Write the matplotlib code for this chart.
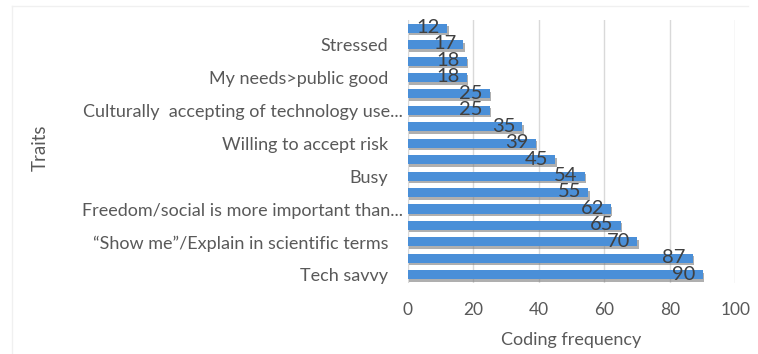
import numpy as np
import matplotlib
matplotlib.use("Agg")
import matplotlib.pyplot as plt
import matplotlib.patheffects as pe
import matplotlib.transforms as mtransforms
from matplotlib.lines import Line2D

# Coding frequency per trait, listed bottom to top
values = [90, 87, 70, 65, 62, 55, 54, 45, 39, 35, 25, 25, 18, 18, 17, 12]

# only every other category gets a visible label
tick_labels = [
    "Tech savvy",
    "\u201cShow me\u201d/Explain in scientific terms",
    "Freedom/social is more important than...",
    "Busy",
    "Willing to accept risk",
    "Culturally  accepting of technology use...",
    "My needs>public good",
    "Stressed",
]
xticks = [0, 20, 40, 60, 80, 100]

plt.rcParams["font.family"] = ["Lato", "DejaVu Sans"]
text_color = "#595959"

fig = plt.figure(figsize=(7.58, 3.54), dpi=100)
ax = fig.add_axes([0.538, 0.2006, 0.432, 0.743])

y = np.arange(len(values))
bars = ax.barh(y, values, height=0.55, color="#4a8fd8", zorder=3)
for b in bars:
    b.set_path_effects([pe.SimplePatchShadow(offset=(1.2, -1.8), shadow_rgbFace="#7a7a7a", alpha=0.6),
                        pe.Normal()])

for yi, v in zip(y, values):
    ax.annotate(str(v), (v, yi), xytext=(-5, 0.5), textcoords="offset points",
                ha="right", va="center", fontsize=14.5, color="#404040", zorder=4)

ax.set_xlim(0, 100)
ax.set_ylim(-0.5, len(values) - 0.5)
ax.set_xticks(xticks)
ax.set_xticklabels([str(t) for t in xticks], fontsize=12.5, color=text_color)
ax.set_yticks(y[::2])
ax.set_yticklabels(tick_labels, fontsize=13, color=text_color)
ax.tick_params(length=0)
ax.tick_params(axis="y", pad=14)
ax.tick_params(axis="x", pad=14)
ax.grid(axis="x", color="#d9d9d9", linewidth=1, zorder=0)
for s in ax.spines.values():
    s.set_visible(False)

# truncated labels sit a little closer to the axis
shift = mtransforms.ScaledTranslation(15 / 100, 0, fig.dpi_scale_trans)
for lab in ax.get_yticklabels():
    if lab.get_text().endswith("..."):
        lab.set_transform(lab.get_transform() + shift)

ax.set_xlabel("Coding frequency", fontsize=13, color=text_color, labelpad=10)
fig.text(0.053, 0.582, "Traits", rotation=90, fontsize=13.5, color=text_color,
         ha="center", va="center")

# faint chart-area frame
fig.add_artist(Line2D([12 / 758, 748 / 758], [1 - 6 / 354, 1 - 6 / 354], color="#f0f0f0", lw=1))
fig.add_artist(Line2D([12 / 758, 12 / 758], [1 - 6 / 354, 0], color="#f0f0f0", lw=1))

fig.savefig("out.png", dpi=100)
